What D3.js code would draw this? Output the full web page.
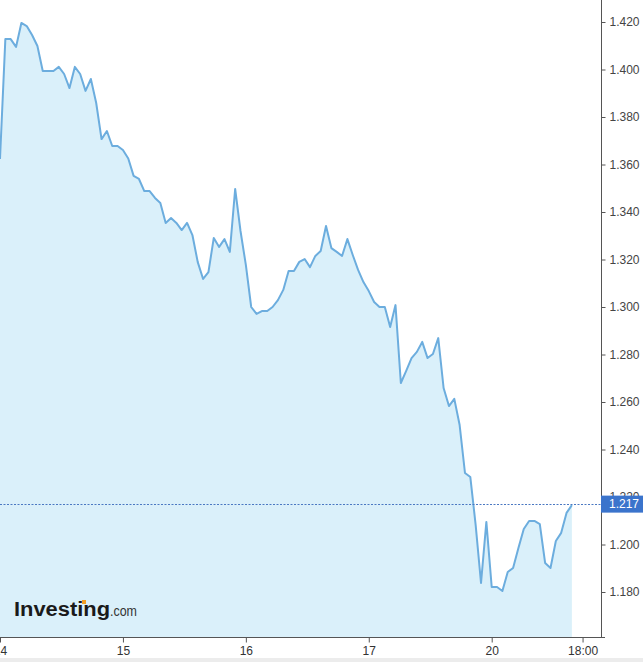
<!DOCTYPE html>
<html>
<head>
<meta charset="utf-8">
<script src="https://cdn.jsdelivr.net/npm/d3@7"></script>
<style>
  html, body { margin: 0; padding: 0; background: #fff; }
  svg { display: block; font-family: "Liberation Sans", Arial, sans-serif; }
</style>
</head>
<body>
<svg id="chart" width="643" height="662"></svg>
<script>
// ---- data (hourly index, 23 trading hours per day) ----
const values = [
  1.3623, 1.4128, 1.4128, 1.4095, 1.4196, 1.4183, 1.4145, 1.4099, 1.3994, 1.3994,
  1.3994, 1.4011, 1.3981, 1.3922, 1.4011, 1.3981, 1.3910, 1.3960, 1.3859, 1.3707,
  1.3741, 1.3678, 1.3678, 1.3661, 1.3625, 1.3552, 1.3539, 1.3488, 1.3488, 1.3459,
  1.3438, 1.3354, 1.3375, 1.3354, 1.3324, 1.3354, 1.3303, 1.3189, 1.3118, 1.3147,
  1.3291, 1.3253, 1.3286, 1.3232, 1.3497, 1.3320, 1.3177, 1.3000, 1.2971, 1.2983,
  1.2983, 1.3000, 1.3029, 1.3072, 1.3152, 1.3152, 1.3190, 1.3202, 1.3168, 1.3215,
  1.3236, 1.3341, 1.3248, 1.3232, 1.3215, 1.3286, 1.3219, 1.3156, 1.3105, 1.3067,
  1.3021, 1.3000, 1.3000, 1.2916, 1.3008, 1.2680, 1.2731, 1.2785, 1.2811, 1.2853,
  1.2785, 1.2802, 1.2869, 1.2659, 1.2583, 1.2613, 1.2503, 1.2301, 1.2284, 1.2082,
  1.1838, 1.2095, 1.1821, 1.1821, 1.1804, 1.1884, 1.1901, 1.1985, 1.2065, 1.2099,
  1.2099, 1.2086, 1.1922, 1.1901, 1.2015, 1.2049, 1.2133, 1.2166
];
const xTickIndex = [0, 23, 46, 69, 92, 109];
const xTickLabels = ["14", "15", "16", "17", "20", "18:00"];
const yTicks = [1.18, 1.20, 1.22, 1.24, 1.26, 1.28, 1.30, 1.32, 1.34, 1.36, 1.38, 1.40, 1.42];
const lastValue = 1.217;

// ---- layout ----
const svg = d3.select("#chart");
const plotRight = 601, plotBottom = 637;

const x = d3.scaleLinear().domain([0, 112.45]).range([0, plotRight]);
const y = d3.scaleLinear().domain([1.18, 1.42]).range([592, 22]);

// bottom gray strip
svg.append("rect").attr("x", 0).attr("y", 658).attr("width", 643).attr("height", 4).attr("fill", "#ececec");

// area
const area = d3.area()
  .x((d, i) => x(i))
  .y0(plotBottom)
  .y1(d => y(d));
svg.append("path").datum(values).attr("d", area).attr("fill", "#daf0fa");

const line = d3.line().x((d, i) => x(i)).y(d => y(d));
svg.append("path").datum(values).attr("d", line)
  .attr("fill", "none").attr("stroke", "#6cadde").attr("stroke-width", 2)
  .attr("stroke-linejoin", "round");

// dotted current-value line
svg.append("line")
  .attr("x1", 0).attr("x2", plotRight)
  .attr("y1", Math.round(y(lastValue)) + 0.5).attr("y2", Math.round(y(lastValue)) + 0.5)
  .attr("stroke", "#4a78c2").attr("stroke-width", 1).attr("stroke-dasharray", "2,1.5");

// logo
const logo = svg.append("g");
logo.append("text").attr("x", 14).attr("y", 616)
  .attr("font-size", 20).attr("font-weight", "bold").attr("fill", "#1a1a1a")
  .attr("textLength", 96).attr("lengthAdjust", "spacingAndGlyphs")
  .text("Investing");
logo.append("text").attr("x", 110).attr("y", 616)
  .attr("font-size", 14).attr("fill", "#333")
  .attr("textLength", 27).attr("lengthAdjust", "spacingAndGlyphs")
  .text(".com");
logo.append("rect").attr("x", 82).attr("y", 600).attr("width", 4).attr("height", 4)
  .attr("fill", "#f4a026");

// right axis
const yAxis = d3.axisRight(y)
  .tickValues(yTicks)
  .tickFormat(d3.format(".3f"))
  .tickSize(4).tickSizeOuter(0).tickPadding(4);
const gy = svg.append("g").attr("transform", `translate(${plotRight + 0.5},0)`).call(yAxis);
gy.select(".domain").remove();
gy.selectAll(".tick line").attr("stroke", "#555");
gy.selectAll(".tick text").attr("fill", "#444").attr("font-size", 12)
  .attr("font-family", "'Liberation Sans', Arial, sans-serif");
svg.append("line").attr("x1", plotRight + 0.5).attr("x2", plotRight + 0.5)
  .attr("y1", 0).attr("y2", plotBottom + 0.5).attr("stroke", "#555");

// bottom axis
const xAxis = d3.axisBottom(x)
  .tickValues(xTickIndex)
  .tickFormat((d, i) => xTickLabels[i])
  .tickSize(5).tickSizeOuter(0).tickPadding(4);
const gx = svg.append("g").attr("transform", `translate(0,${plotBottom + 0.5})`).call(xAxis);
gx.select(".domain").remove();
gx.selectAll(".tick line").attr("stroke", "#555");
gx.selectAll(".tick text").attr("fill", "#333").attr("font-size", 12)
  .attr("font-family", "'Liberation Sans', Arial, sans-serif");
svg.append("line").attr("x1", 0).attr("x2", plotRight + 4)
  .attr("y1", plotBottom + 0.5).attr("y2", plotBottom + 0.5).attr("stroke", "#555");

// current value badge
const by = y(lastValue);
svg.append("rect").attr("x", plotRight).attr("y", by - 8.5).attr("width", 643 - plotRight).attr("height", 17)
  .attr("fill", "#3b74cc");
svg.append("text").attr("x", plotRight + 8).attr("y", by).attr("dy", "0.35em")
  .attr("fill", "#fff").attr("font-size", 12).text(d3.format(".3f")(lastValue));
</script>
</body>
</html>
